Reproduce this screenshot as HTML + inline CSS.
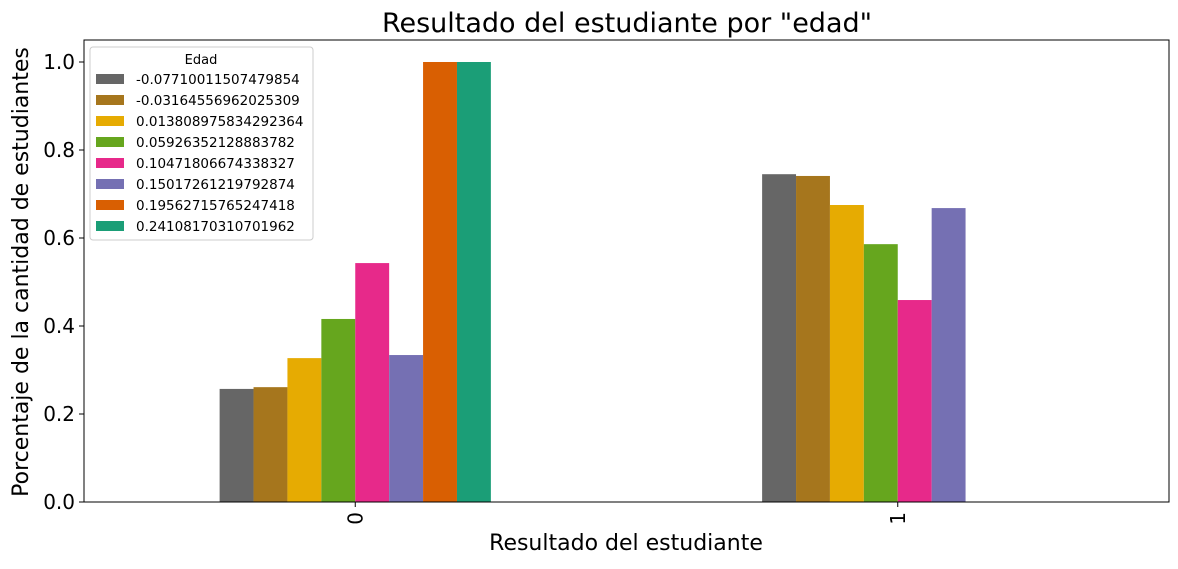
<!DOCTYPE html>
<html><head><meta charset="utf-8"><style>
body{margin:0;background:#fff;}
svg{font-family:"DejaVu Sans","Liberation Sans",sans-serif;}
</style></head><body>
<svg id="chart" width="1178" height="564" xmlns="http://www.w3.org/2000/svg">
<text x="627" y="32" font-size="27" text-anchor="middle">Resultado del estudiante por "edad"</text>
<g id="plot"></g>
</svg>
<script>
const categories=["0","1"];
const seriesNames=["-0.07710011507479854","-0.03164556962025309","0.013808975834292364","0.05926352128883782","0.10471806674338327","0.15017261219792874","0.19562715765247418","0.24108170310701962"];
const seriesValues=[[0.257,0.745],[0.261,0.741],[0.327,0.675],[0.416,0.586],[0.543,0.459],[0.334,0.668],[1.0,0],[1.0,0]];
const colors=["#666666","#a6761d","#e6ab02","#66a61e","#e7298a","#7570b3","#d95f02","#1b9e77"];
const yTicks=[0,0.2,0.4,0.6,0.8,1.0];
const L=84,R=1169,T=40,B=502;
const x=v=>L+(v+0.5)/2*(R-L);
const y=v=>B-v*440;
const ns="http://www.w3.org/2000/svg";
const g=document.getElementById('plot');
function mk(t,a,p){const e=document.createElementNS(ns,t);for(const k in a)e.setAttribute(k,a[k]);(p||g).appendChild(e);return e;}
const bw=0.5/seriesNames.length;
seriesValues.forEach((vals,s)=>{vals.forEach((v,c)=>{
 const x0=x(c-0.25+s*bw),x1=x(c-0.25+(s+1)*bw);
 const r=mk('rect',{x:x0,y:y(v),width:x1-x0,height:B-y(v),fill:colors[s]});
 
 
});});
const frame=mk('rect',{x:L,y:T,width:R-L,height:B-T,fill:'none',stroke:'#000','stroke-width':1});


yTicks.forEach(t=>{
 mk('line',{x1:L-5,x2:L,y1:y(t),y2:y(t),stroke:'#000'});
 const tx=mk('text',{x:L-9,y:y(t)+7,'font-size':20,'text-anchor':'end'});
 tx.textContent=t.toFixed(1);
 
 
});
categories.forEach((c,i)=>{
 const px=x(i);
 mk('line',{x1:px,x2:px,y1:B,y2:B+5,stroke:'#000'});
 const tx=mk('text',{x:0,y:0,'font-size':20,transform:`translate(${px+7},${B+10}) rotate(-90)`,'text-anchor':'end'});
 tx.textContent=c;
 
 
});
const xt=mk('text',{x:626,y:550,'font-size':22,'text-anchor':'middle'});
xt.textContent="Resultado del estudiante";


const yt=mk('text',{x:0,y:0,'font-size':22,'text-anchor':'middle',transform:`translate(28,272) rotate(-90)`});
yt.textContent="Porcentaje de la cantidad de estudiantes";


const lg=mk('g',{});


mk('rect',{x:90,y:47,width:223,height:193,fill:'#fff',stroke:'#ccc',rx:3},lg);
const lt=mk('text',{x:201,y:64,'font-size':13,'text-anchor':'middle'},lg);
lt.textContent="Edad";
seriesNames.forEach((n,i)=>{
 const yy=79+i*21;
 mk('rect',{x:96,y:yy-5,width:28,height:10,fill:colors[i]},lg);
 const t=mk('text',{x:136,y:yy+5,'font-size':13.5},lg);
 t.textContent=n;
 
 
});
</script>
</body></html>
